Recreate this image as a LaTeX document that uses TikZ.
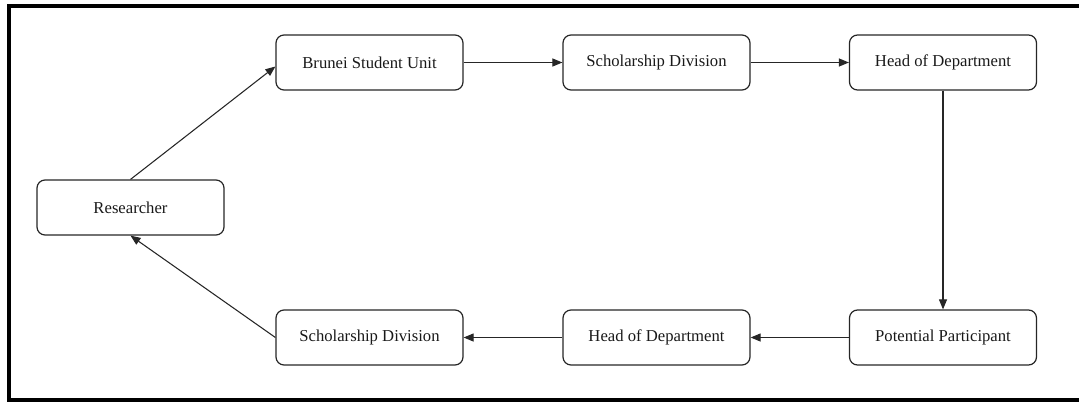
\documentclass[tikz,border=0pt]{standalone}
\usepackage{fontspec}
\setmainfont{Liberation Serif}
\usetikzlibrary{arrows.meta,positioning}
\begin{document}
\begin{tikzpicture}[x=0.75pt,y=-0.75pt,
  stage/.style={draw=black!85,line width=0.9pt,rounded corners=6pt,
    minimum width=140.25pt,minimum height=41.25pt,inner sep=0pt,
    font=\fontsize{12.5}{14}\selectfont,text=black!90},
  flow/.style={draw=black!85,line width=0.8pt,
    -{Triangle[length=7.5pt,width=6pt]}}]
  \useasboundingbox (0,0) rectangle (1079,403);
  % frame on three sides
  \draw[line width=3pt] (1079,6) -- (9,6) -- (9,400) -- (1079,400);
  % stages
  \node[stage] (res) at (130.5,207.5) {Researcher};
  \node[stage] (bsu) at (369.5,62.5) {Brunei Student Unit};
  \node[stage] (sd1) at (656.5,62.5) {Scholarship Division};
  \node[stage] (hod1) at (943,62.5) {Head of Department};
  \node[stage] (pp) at (943,337.5) {Potential Participant};
  \node[stage] (hod2) at (656.5,337.5) {Head of Department};
  \node[stage] (sd2) at (369.5,337.5) {Scholarship Division};
  % connectors
  \draw[flow] (res.north) -- ([yshift=-3pt]bsu.west);
  \draw[flow] (bsu) -- (sd1);
  \draw[flow] (sd1) -- (hod1);
  \draw[flow] (hod1) -- (pp);
  \draw[flow] (pp) -- (hod2);
  \draw[flow] (hod2) -- (sd2);
  \draw[flow] (sd2.west) -- (res.south);
\end{tikzpicture}
\end{document}
